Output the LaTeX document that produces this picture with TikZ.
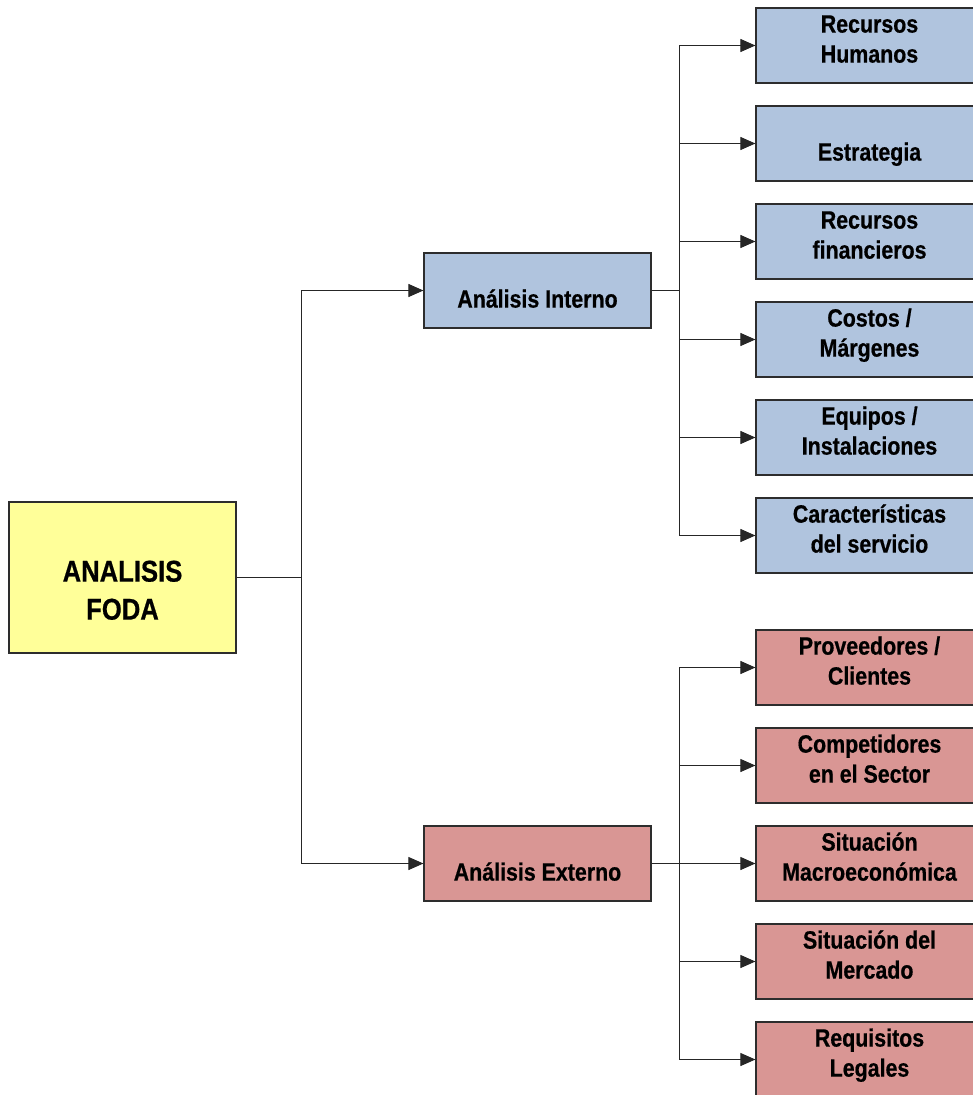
\documentclass[tikz,border=0pt]{standalone}
\usepackage{fontspec}
\usetikzlibrary{arrows.meta}
\newfontfamily\boxfont[FakeStretch=0.855,FakeBold=0.6]{Liberation Sans}
\definecolor{fodayellow}{RGB}{255,255,153}
\definecolor{intblue}{RGB}{176,196,222}
\definecolor{extred}{RGB}{217,150,148}
\definecolor{edgegray}{RGB}{45,45,45}
\tikzset{
  boxbase/.style={draw=edgegray, line width=1.2pt, rectangle, inner sep=0pt,
    minimum width=227pt, minimum height=75pt},
  fodabox/.style={boxbase, fill=fodayellow, minimum height=151pt},
  intbox/.style={boxbase, fill=intblue},
  extbox/.style={boxbase, fill=extred},
  boxtext/.style={inner sep=0pt, anchor=north, align=center,
    font=\boxfont\bfseries\fontsize{25}{30}\selectfont},
  midtext/.style={boxtext},
  bigtext/.style={boxtext, font=\boxfont\bfseries\fontsize{30}{38}\selectfont},
  link/.style={draw=black!85, line width=1pt},
  arrowlink/.style={link, -{Triangle[length=15pt,width=13pt]}}
}
\newcommand{\topstrut}{\rule{0pt}{24pt}}
\begin{document}
\begin{tikzpicture}[x=1pt,y=-1pt]
\useasboundingbox (0,0) rectangle (973,1095);
\clip (0,0) rectangle (973,1095);
\fill[white] (0,0) rectangle (973,1095);

% main box
\node[fodabox] (foda) at (122.5,577.5) {};
\node[bigtext] (fodat) at ([yshift=-50pt]foda.north) {\rule{0pt}{30pt}ANALISIS\\FODA};

% second level
\node[intbox] (ai) at (537.5,290.5) {};
\node[midtext] (ait) at ([yshift=-1pt]ai.north) {\topstrut\\Análisis Interno};
\node[extbox] (ae) at (537.5,863.5) {};
\node[midtext] (aet) at ([yshift=-1pt]ae.north) {\topstrut\\Análisis Externo};

% internal boxes
\node[intbox] (i1) at (869.5,45.5) {};
\node[boxtext] (i1t) at ([yshift=-1pt]i1.north) {\topstrut Recursos\\Humanos};
\node[intbox] (i2) at (869.5,143.5) {};
\node[boxtext] (i2t) at ([yshift=-1pt]i2.north) {\topstrut\\Estrategia};
\node[intbox] (i3) at (869.5,241.5) {};
\node[boxtext] (i3t) at ([yshift=-1pt]i3.north) {\topstrut Recursos\\financieros};
\node[intbox] (i4) at (869.5,339.5) {};
\node[boxtext] (i4t) at ([yshift=-1pt]i4.north) {\topstrut Costos /\\Márgenes};
\node[intbox] (i5) at (869.5,437.5) {};
\node[boxtext] (i5t) at ([yshift=-1pt]i5.north) {\topstrut Equipos /\\Instalaciones};
\node[intbox] (i6) at (869.5,535.5) {};
\node[boxtext] (i6t) at ([yshift=-1pt]i6.north) {\topstrut Características\\del servicio};

% external boxes
\node[extbox] (e1) at (869.5,667.5) {};
\node[boxtext] (e1t) at ([yshift=-1pt]e1.north) {\topstrut Proveedores /\\Clientes};
\node[extbox] (e2) at (869.5,765.5) {};
\node[boxtext] (e2t) at ([yshift=-1pt]e2.north) {\topstrut Competidores\\en el Sector};
\node[extbox] (e3) at (869.5,863.5) {};
\node[boxtext] (e3t) at ([yshift=-1pt]e3.north) {\topstrut Situación\\Macroeconómica};
\node[extbox] (e4) at (869.5,961.5) {};
\node[boxtext] (e4t) at ([yshift=-1pt]e4.north) {\topstrut Situación del\\Mercado};
\node[extbox] (e5) at (869.5,1059.5) {};
\node[boxtext] (e5t) at ([yshift=-1pt]e5.north) {\topstrut Requisitos\\Legales};

% junction coordinates
\coordinate (j0) at (301,577.5);
\coordinate (j1) at (679,290.5);
\coordinate (j2) at (679,863.5);

% connectors
\draw[link] (foda.east) -- (j0);
\draw[arrowlink] (j0) |- (ai.west);
\draw[arrowlink] (j0) |- (ae.west);

\draw[link] (ai.east) -- (j1);
\foreach \t in {i1,i2,i3,i4,i5,i6} {
  \draw[arrowlink] (j1) |- (\t.west);
}
\draw[link] (ae.east) -- (j2);
\foreach \t in {e1,e2,e3,e4,e5} {
  \draw[arrowlink] (j2) |- (\t.west);
}
\end{tikzpicture}
\end{document}
